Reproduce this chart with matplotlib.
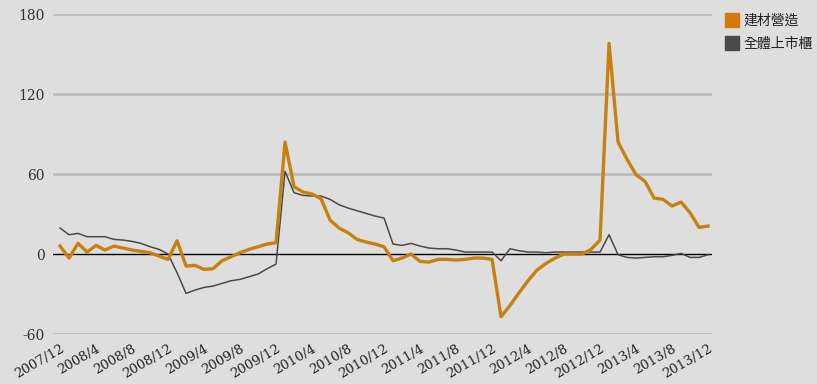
import matplotlib.pyplot as plt
import matplotlib.patches as mpatches
import numpy as np

plt.rcParams['font.family'] = ['Noto Sans CJK TC', 'DejaVu Sans']

# monthly, 2007/12 .. 2013/12
months = []
y, m = 2007, 12
for k in range(73):
    months.append("%d/%d" % (y, m))
    m += 1
    if m > 12:
        m = 1
        y += 1

# 建材營造
build = [6, -3, 8, 1.5, 6.5, 3, 6, 4.5, 3, 2, 1, -1.5, -4, 10, -9, -8.5, -11.5, -11, -5, -2,
         1, 3.5, 5.5, 7.5, 8.5, 84, 50.5, 46.5, 45, 41.5, 25.5, 19.5, 16, 11, 9, 7.5, 5.5,
         -5, -3, 0, -5.5, -6, -4, -4, -4.5, -4, -3, -3, -4, -47, -38.5, -29, -20, -12,
         -7, -3, 0, 0, 0, 3.5, 10.5, 158, 84, 71, 59.5, 54.5, 42, 41, 36, 39, 31, 20, 21]
# 全體上市櫃
total = [19.5, 14.5, 15.5, 13, 13, 13, 11, 10.5, 9.5, 8, 5.5, 3.5, 0, -14, -29.5, -27, -25,
         -24, -22, -20, -19, -17, -15, -11, -7.5, 62, 46, 44, 43.5, 43.5, 41, 37, 34.5, 32.5,
         30.5, 28.5, 27, 7.5, 6.5, 8, 6, 4.5, 4, 4, 3, 1.5, 1.5, 1.5, 1.5, -5, 4, 2.5, 1.5,
         1.5, 1, 1.5, 1.5, 1.5, 1.5, 1.5, 1.5, 14.5, -0.5, -2.5, -3, -2.5, -2, -2, -1, 0.5,
         -2.5, -2.5, -0.5]

series_names = ['建材營造', '全體上市櫃']
yticks = [-60, 0, 60, 120, 180]
orange = '#c8800e'
gray = '#4a4a4a'

fig = plt.figure(figsize=(8.17, 3.84), dpi=100, facecolor='#dedede')
ax = fig.add_axes([0.0649, 0.130, 0.8066, 0.8335])
ax.set_facecolor('#dedede')

x = np.arange(len(months))
for v in [-60, 60, 120, 180]:
    ax.axhline(v, color='#bcbcbc', lw=2, zorder=1)
ax.axhline(0, color='black', lw=1, zorder=2)

ax.plot(x, total, color=gray, lw=1.1, zorder=3)
ax.plot(x, build, color=orange, lw=2.4, zorder=4)

ax.set_xlim(-0.78, 72.44)
ax.set_ylim(-60, 180)
ax.set_yticks(yticks)
ax.set_yticklabels([str(v) for v in yticks], family='DejaVu Serif', fontsize=10, color='#333333')
ax.set_xticks(x[::4])
ax.set_xticklabels(months[::4], rotation=30, ha='right', rotation_mode='anchor',
                   family='DejaVu Serif', fontsize=9.5, color='#222222')
ax.tick_params(length=0, pad=6)
for s in ax.spines.values():
    s.set_visible(False)

# legend drawn by hand
leg_colors = ['#d47a0a', '#4a4a4a']
for i in range(2):
    fig.add_artist(mpatches.Rectangle((0.8874, 0.9297 - i * 0.06), 0.0171, 0.0365,
                                      transform=fig.transFigure, color=leg_colors[i]))
    fig.text(0.9095, 0.947 - i * 0.06, series_names[i], fontsize=10, color='#222222',
             va='center', ha='left')

fig.savefig('out.png', dpi=100, facecolor=fig.get_facecolor())
